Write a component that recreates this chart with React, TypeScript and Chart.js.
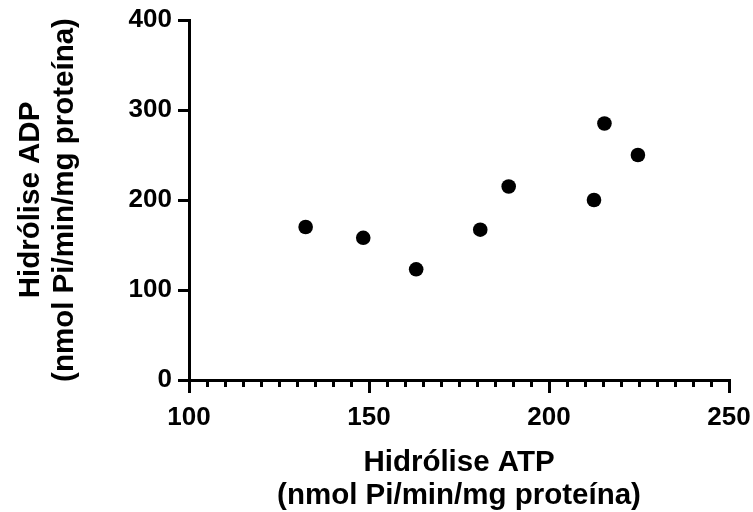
import React, { useEffect, useRef } from "react";
import { Chart, registerables } from "chart.js";

Chart.register(...registerables);

const atpValues = [132.4, 148.4, 163.1, 180.9, 188.8, 212.5, 215.4, 224.7];
const adpValues = [170, 158, 123, 167, 215, 200, 285, 250];
const xTitle = ["Hidrólise ATP", "(nmol Pi/min/mg proteína)"];
const yTitle = ["Hidrólise ADP", "(nmol Pi/min/mg proteína)"];

const FONT = "'Liberation Sans', Arial, sans-serif";

const minorTicks = {
  id: "minorTicks",
  afterDraw(chart: any) {
    const sx = chart.scales.x;
    const ctx = chart.ctx;
    const y0 = chart.chartArea.bottom;
    ctx.save();
    ctx.strokeStyle = "#000";
    ctx.lineWidth = 3;
    sx.ticks.forEach((t: any) => {
      if (t.value % 50 !== 0) {
        const px = Math.round(sx.getPixelForValue(t.value)) + 0.5;
        ctx.beginPath();
        ctx.moveTo(px, y0);
        ctx.lineTo(px, y0 + 7);
        ctx.stroke();
      }
    });
    ctx.restore();
  },
};

export default function App() {
  const ref = useRef<HTMLCanvasElement>(null);
  useEffect(() => {
    document.body.style.margin = "0";
    const points = atpValues.map((x, i) => ({ x, y: adpValues[i] }));
    const chart = new Chart(ref.current!, {
      type: "scatter",
      data: {
        datasets: [
          {
            data: points,
            backgroundColor: "#000",
            borderWidth: 0,
            pointRadius: 7.3,
            pointHoverRadius: 7.3,
          },
        ],
      },
      plugins: [minorTicks],
      options: {
        animation: false,
        responsive: false,
        layout: { padding: { top: 20, right: 24, left: 0, bottom: 0 } },
        plugins: { legend: { display: false }, tooltip: { enabled: false } },
        scales: {
          x: {
            type: "linear",
            min: 100,
            max: 250,
            afterFit: (s: any) => {
              s.height = 132;
              s.paddingLeft = 0;
              s.paddingRight = 0;
            },
            ticks: {
              stepSize: 5,
              autoSkip: false,
              maxRotation: 0,
              color: "#000",
              padding: 9,
              font: { family: FONT, size: 26, weight: "bold" },
              callback: (v: any) => (Number(v) % 50 === 0 ? String(v) : ""),
            },
            grid: {
              drawOnChartArea: false,
              tickLength: 13,
              lineWidth: 3,
              tickColor: (c: any) =>
                c.tick && c.tick.value % 50 === 0 ? "#000" : "rgba(0,0,0,0)",
            },
            border: { display: true, color: "#000", width: 3 },
            title: {
              display: true,
              text: xTitle,
              color: "#000",
              font: { family: FONT, size: 29.5, weight: "bold", lineHeight: 1.1 },
              padding: { top: 0, bottom: 0 },
            },
          },
          y: {
            type: "linear",
            min: 0,
            max: 400,
            afterFit: (s: any) => {
              s.width = 189;
              s.paddingTop = 0;
              s.paddingBottom = 0;
            },
            ticks: {
              stepSize: 100,
              color: "#000",
              padding: 6,
              font: { family: FONT, size: 26, weight: "bold" },
            },
            grid: {
              drawOnChartArea: false,
              tickLength: 11,
              lineWidth: 3,
              tickColor: "#000",
            },
            border: { display: true, color: "#000", width: 3 },
            title: {
              display: true,
              text: yTitle,
              color: "#000",
              font: { family: FONT, size: 29.5, weight: "bold", lineHeight: 1.15 },
              padding: { top: 14, bottom: 0 },
            },
          },
        },
      },
    });
    return () => chart.destroy();
  }, []);
  return <canvas ref={ref} width={753} height={512} style={{ display: "block" }} />;
}
